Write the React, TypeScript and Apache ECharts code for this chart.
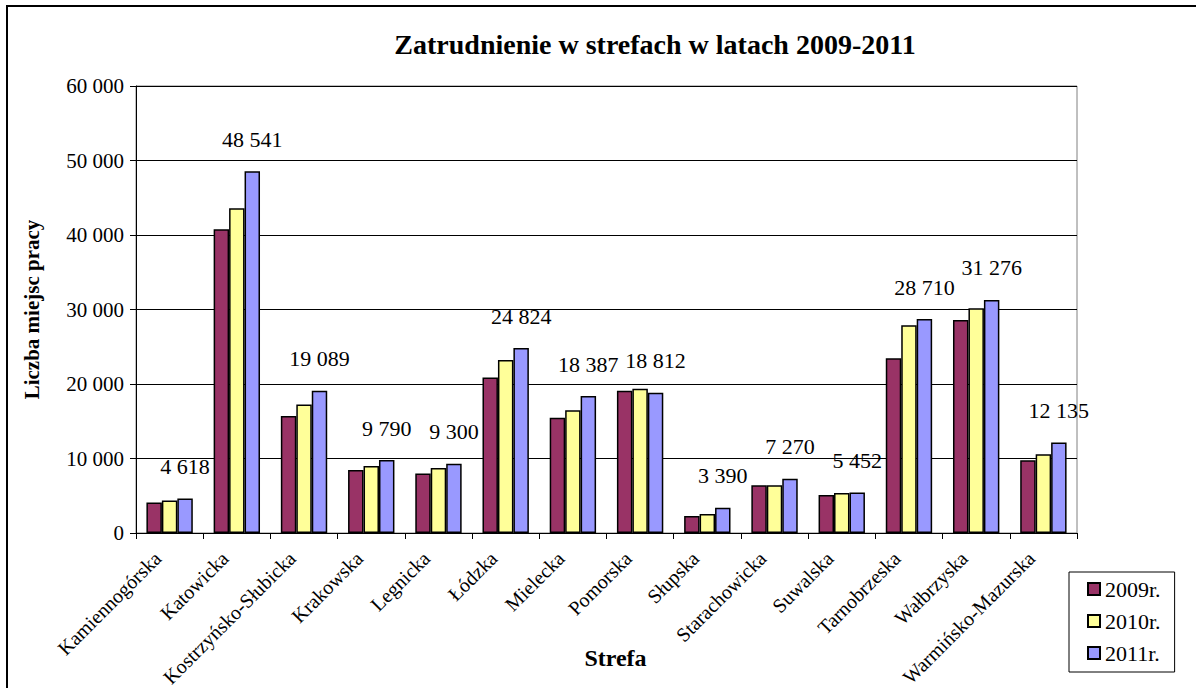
import React, { useEffect, useRef } from "react";
import * as echarts from "echarts";

const categories = [
  "Kamiennogórska",
  "Katowicka",
  "Kostrzyńsko-Słubicka",
  "Krakowska",
  "Legnicka",
  "Łódzka",
  "Mielecka",
  "Pomorska",
  "Słupska",
  "Starachowicka",
  "Suwalska",
  "Tarnobrzeska",
  "Wałbrzyska",
  "Warmińsko-Mazurska",
];

const values2009 = [4090, 40780, 15690, 8470, 7980, 20880, 15460, 19090, 2290, 6410, 5110, 23440, 28590, 9770];
const values2010 = [4350, 43600, 17260, 9010, 8740, 23210, 16490, 19360, 2560, 6410, 5380, 27870, 30160, 10580];
const values2011 = [4618, 48541, 19089, 9790, 9300, 24824, 18387, 18812, 3390, 7270, 5452, 28710, 31276, 12135];

const seriesNames = ["2009r.", "2010r.", "2011r."];
const seriesColors = ["#993366", "#FFFF99", "#9999FF"];
const yTicks = [0, 10000, 20000, 30000, 40000, 50000, 60000];

const FONT = "Liberation Serif";

const fmt = (v: number) => {
  const s = Math.round(v).toString();
  return s.replace(/\B(?=(\d{3})+(?!\d))/g, " ");
};

export default function App() {
  const ref = useRef<HTMLDivElement>(null);

  useEffect(() => {
    if (!ref.current) return;
    const chart = echarts.init(ref.current, null, { renderer: "svg" });
    const data = [values2009, values2010, values2011];
    chart.setOption({
      animation: false,
      backgroundColor: "#ffffff",
      title: {
        text: "Zatrudnienie w strefach w latach 2009-2011",
        left: 650,
        top: 25,
        textAlign: "center",
        textStyle: { fontFamily: FONT, fontSize: 28, fontWeight: "bold", color: "#000" },
      },
      graphic: [
        {
          type: "rect",
          shape: { x: 7, y: 6, width: 1200, height: 700 },
          style: { fill: "none", stroke: "#000", lineWidth: 2 },
          silent: true,
          z: 100,
        },
      ],
      legend: {
        orient: "vertical",
        left: 1069,
        top: 572,
        data: seriesNames,
        icon: "rect",
        itemWidth: 12,
        itemHeight: 12,
        itemGap: 10,
        padding: [6, 14, 8, 18],
        borderColor: "#000",
        borderWidth: 1,
        backgroundColor: "#fff",
        textStyle: { fontFamily: FONT, fontSize: 22, color: "#000", lineHeight: 21 },
      },
      grid: {
        left: 136,
        right: 119,
        top: 86,
        bottom: 155,
        show: true,
        borderColor: "#808080",
        borderWidth: 1,
        outerBoundsMode: "none",
        containLabel: false,
      },
      xAxis: {
        type: "category",
        data: categories,
        name: "Strefa",
        nameLocation: "middle",
        nameGap: 113,
        nameMoveOverlap: false,
        nameTextStyle: { fontFamily: FONT, fontSize: 24, fontWeight: "bold", color: "#000", padding: [0, 0, 0, 18] },
        axisLine: { lineStyle: { color: "#000", width: 1 } },
        axisTick: { show: true, length: 6, lineStyle: { color: "#000" } },
        axisLabel: {
          interval: 0,
          rotate: 45,
          margin: 10,
          padding: [0, 17, 0, 0],
          fontFamily: FONT,
          fontSize: 20,
          color: "#000",
        },
      },
      yAxis: {
        type: "value",
        min: 0,
        max: 60000,
        interval: 10000,
        name: "Liczba miejsc pracy",
        nameLocation: "middle",
        nameGap: 94,
        nameRotate: 90,
        nameMoveOverlap: false,
        nameTextStyle: { fontFamily: FONT, fontSize: 21, fontWeight: "bold", color: "#000" },
        axisLine: { show: true, lineStyle: { color: "#000", width: 1 } },
        axisTick: { show: true, length: 6, lineStyle: { color: "#000" } },
        axisLabel: {
          margin: 12,
          fontFamily: FONT,
          fontSize: 21,
          color: "#000",
          formatter: (v: number) => (yTicks.includes(v) ? fmt(v) : ""),
        },
        splitLine: { show: true, lineStyle: { color: "#000", width: 1 } },
      },
      series: seriesNames.map((name, i) => ({
        name,
        type: "bar",
        data: data[i],
        barGap: "0%",
        barCategoryGap: "31%",
        itemStyle: { color: seriesColors[i], borderColor: "#000", borderWidth: 1.5 },
        label:
          i === 2
            ? {
                show: true,
                position: "top",
                distance: 21,
                fontFamily: FONT,
                fontSize: 22,
                color: "#000",
                formatter: (p: any) => fmt(p.value),
              }
            : { show: false },
      })),
    });
    return () => chart.dispose();
  }, []);

  return (
    <div
      ref={ref}
      style={{ position: "absolute", left: 0, top: 0, width: 1196, height: 688, background: "#fff" }}
    />
  );
}
